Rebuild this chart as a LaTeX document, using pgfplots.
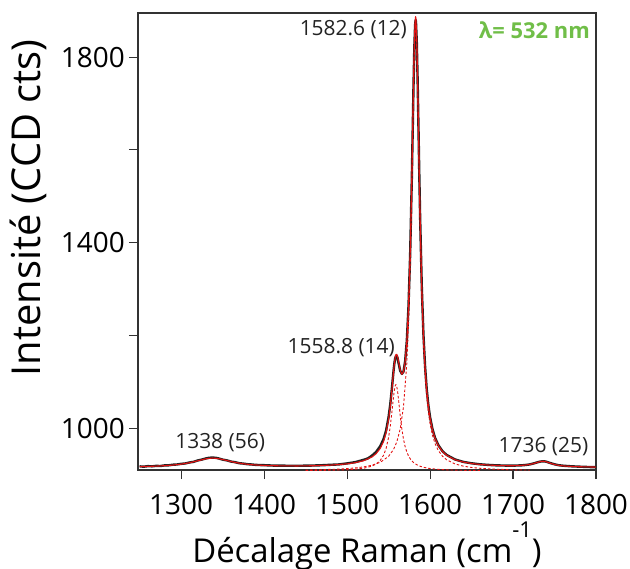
\documentclass[border=0pt]{standalone}
\usepackage{pgfplots}
\usepackage{pgfplotstable}
\pgfplotsset{compat=1.18}
\usepackage{fontspec}
\setmainfont{Open Sans}
\definecolor{fitred}{RGB}{226,18,18}
\definecolor{dataink}{RGB}{34,34,34}
\definecolor{axisgray}{RGB}{50,50,50}
\definecolor{lamgreen}{RGB}{112,190,72}

\pgfplotstableread{
x y
1250 917.8
1255 917.2
1260 918.3
1265 917.9
1270 918.9
1275 918.6
1280 919.9
1285 920.1
1290 921.4
1295 921.9
1300 923.3
1305 924.1
1310 926.2
1315 927.6
1320 930.6
1325 932.5
1330 935.0
1334 936.4
1338 936.8
1342 936.2
1345 935.0
1350 932.4
1355 930.8
1360 928.2
1365 926.9
1370 924.6
1375 923.8
1380 922.5
1385 921.9
1390 921.0
1400 920.4
1410 919.6
1420 919.5
1430 919.1
1440 919.2
1450 919.3
1460 919.7
1470 920.3
1480 921.2
1490 922.0
1500 924.2
1510 927.0
1520 932.0
1525 935.0
1530 941.0
1535 949.0
1540 961.5
1544 977.0
1547 995.0
1550 1024
1552 1051
1554 1086
1556 1124
1557 1140
1558 1151
1559 1156
1560 1156
1561 1150
1562 1141
1564 1124
1566 1117
1568 1122
1570 1145
1572 1189
1574 1262
1576 1374
1578 1537
1579 1634
1580 1733
1581 1818
1582 1870
1582.6 1880
1583 1877
1584 1833
1585 1752
1586 1652
1587 1550
1588 1457
1590 1307
1592 1203
1594 1133
1596 1084
1598 1049
1600 1024
1603 997.5
1606 979.5
1610 963.5
1615 950.5
1620 942.5
1630 932.8
1640 927.5
1650 924.5
1660 922.3
1670 921.0
1680 920.0
1690 919.6
1700 919.4
1710 920.0
1715 920.8
1720 922.0
1725 924.2
1730 926.9
1733 928.2
1736 928.8
1739 928.4
1742 926.7
1746 924.4
1750 922.3
1755 920.3
1760 919.3
1770 918.0
1780 917.2
1790 916.5
1800 916.0
}\datatable

\pgfplotstableread{
x y
1250 917.3
1260 917.7
1270 918.4
1280 919.3
1290 920.6
1300 922.6
1310 925.6
1320 929.8
1330 934.2
1338 935.8
1345 934.6
1355 930.5
1365 926.3
1375 923.4
1385 921.4
1400 919.8
1420 918.9
1440 918.7
1460 919.2
1480 920.5
1500 923.2
1510 925.8
1520 930.0
1530 938.1
1535 945.2
1540 956.6
1544 971.9
1547 990.2
1550 1018.8
1552 1046.5
1554 1082.2
1556 1122.0
1557 1139.7
1558 1152.6
1559 1159.3
1560 1159.0
1561 1153.2
1562 1143.9
1564 1125.4
1566 1116.3
1568 1121.8
1570 1144.4
1572 1188.3
1574 1261.2
1576 1374.7
1578 1539.8
1579 1638.9
1580 1739.3
1581 1825.6
1582 1878.3
1582.6 1887.1
1583 1882.5
1584 1836.2
1585 1752.7
1586 1651.3
1587 1548.4
1588 1454.1
1590 1303.7
1592 1200.2
1594 1129.9
1596 1081.4
1598 1047.0
1600 1022.2
1603 996.1
1606 978.3
1610 962.5
1615 949.8
1620 941.7
1630 932.2
1640 927.1
1650 924.0
1660 922.0
1670 920.7
1680 919.8
1690 919.3
1700 919.2
1710 919.9
1715 920.6
1720 921.9
1725 923.9
1730 926.7
1733 928.3
1736 928.9
1739 928.2
1742 926.5
1746 924.0
1750 921.9
1755 920.1
1760 918.9
1770 917.7
1780 917.0
1790 916.7
1800 916.3
}\fittable

\pgfplotstableread{
x y
1450 909.95
1470 910.7
1490 912.0
1500 913.0
1510 914.5
1520 916.7
1530 920.3
1540 926.6
1550 939.4
1556 954.3
1560 971.0
1564 998.2
1568 1046.3
1572 1140.2
1574 1221.4
1576 1341.0
1578 1510.7
1580 1713.7
1581 1801.5
1582 1855.5
1582.6 1865
1583 1860.8
1584 1815.6
1585 1733
1586 1632.4
1588 1436.7
1590 1287.6
1592 1185.1
1594 1115.6
1596 1067.8
1598 1034.1
1600 1009.7
1603 984.2
1606 967.0
1610 951.8
1615 939.7
1620 932.0
1630 923.1
1640 918.35
1650 915.5
1660 913.7
1670 912.5
1680 911.6
1700 910.5
1720 909.8
}\compG

\pgfplotstableread{
x y
1450 908.8
1480 909.5
1500 910.6
1510 911.75
1520 913.9
1530 918.4
1535 922.8
1540 930.7
1544 942.0
1547 956.4
1550 980.1
1552 1003.7
1554 1034.5
1556 1068.3
1557 1082.5
1558 1091.6
1558.8 1094
1559 1093.9
1560 1088.7
1561 1077.3
1562 1061.8
1564 1027.9
1566 998.4
1568 976.2
1570 960.2
1572 948.8
1574 940.5
1576 934.4
1578 929.8
1580 926.3
1584 921.3
1588 918.1
1592 915.9
1596 914.4
1600 913.2
1610 911.4
1620 910.4
1640 909.4
1660 908.9
}\compD

\begin{document}
\begin{tikzpicture}
\path[use as bounding box] (-138bp,-99bp) rectangle (492bp,470bp);
\begin{axis}[
  scale only axis,
  width=458bp, height=457bp,
  xmin=1248, xmax=1800,
  ymin=910, ymax=1895,
  xtick={1300,1400,1500,1600,1700,1800},
  ytick={1000,1200,1400,1600,1800},
  yticklabels={1000,,1400,,1800},
  xtick pos=bottom, ytick pos=left,
  tick align=outside,
  major tick length=9bp,
  axis line style={line width=1.1bp, color=axisgray},
  every tick/.style={line width=1.1bp, color=axisgray},
  /pgf/number format/assume math mode=true,
  /pgf/number format/1000 sep={},
  ticklabel style={font=\fontsize{28}{30}\selectfont, text=black, inner sep=0pt},
  xticklabel style={yshift=-15bp},
  yticklabel style={xshift=-4bp},
  xlabel={Décalage Raman (cm\raisebox{25bp}{\fontsize{22}{22}\selectfont -1})},
  xlabel style={at={(axis description cs:0.5,0)}, anchor=base, yshift=-92bp, font=\fontsize{33}{35}\selectfont, inner sep=0pt},
  ylabel={Intensité (CCD cts)},
  ylabel style={at={(axis description cs:0,0)}, anchor=base, xshift=262bp, yshift=97bp, font=\fontsize{40}{42}\selectfont, inner sep=0pt},
]
\addplot[line width=2.4bp, color=dataink, line join=round] table[x=x,y=y]{\datatable};
\addplot[line width=0.9bp, color=fitred, dash pattern=on 2.5bp off 2bp] table[x=x,y=y]{\compG};
\addplot[line width=0.9bp, color=fitred, dash pattern=on 2.5bp off 2bp] table[x=x,y=y]{\compD};
\addplot[line width=1.1bp, color=fitred, line join=round] table[x=x,y=y]{\fittable};
\node[anchor=base east, text=dataink, font=\fontsize{21}{22}\selectfont, inner sep=0pt] at (axis cs:1572.3,1847.4) {1582.6 (12)};
\node[anchor=base east, text=dataink, font=\fontsize{21}{22}\selectfont, inner sep=0pt] at (axis cs:1557.8,1161.6) {1558.8 (14)};
\node[anchor=base, text=dataink, font=\fontsize{21}{22}\selectfont, inner sep=0pt] at (axis cs:1347,956.9) {1338 (56)};
\node[anchor=base, text=dataink, font=\fontsize{21}{22}\selectfont, inner sep=0pt] at (axis cs:1736.7,948.3) {1736 (25)};
\node[anchor=base east, text=lamgreen, font=\bfseries\fontsize{22}{24}\selectfont, inner sep=0pt] at (axis cs:1792.8,1840.3) {λ= 532 nm};
\end{axis}
\end{tikzpicture}
\end{document}
